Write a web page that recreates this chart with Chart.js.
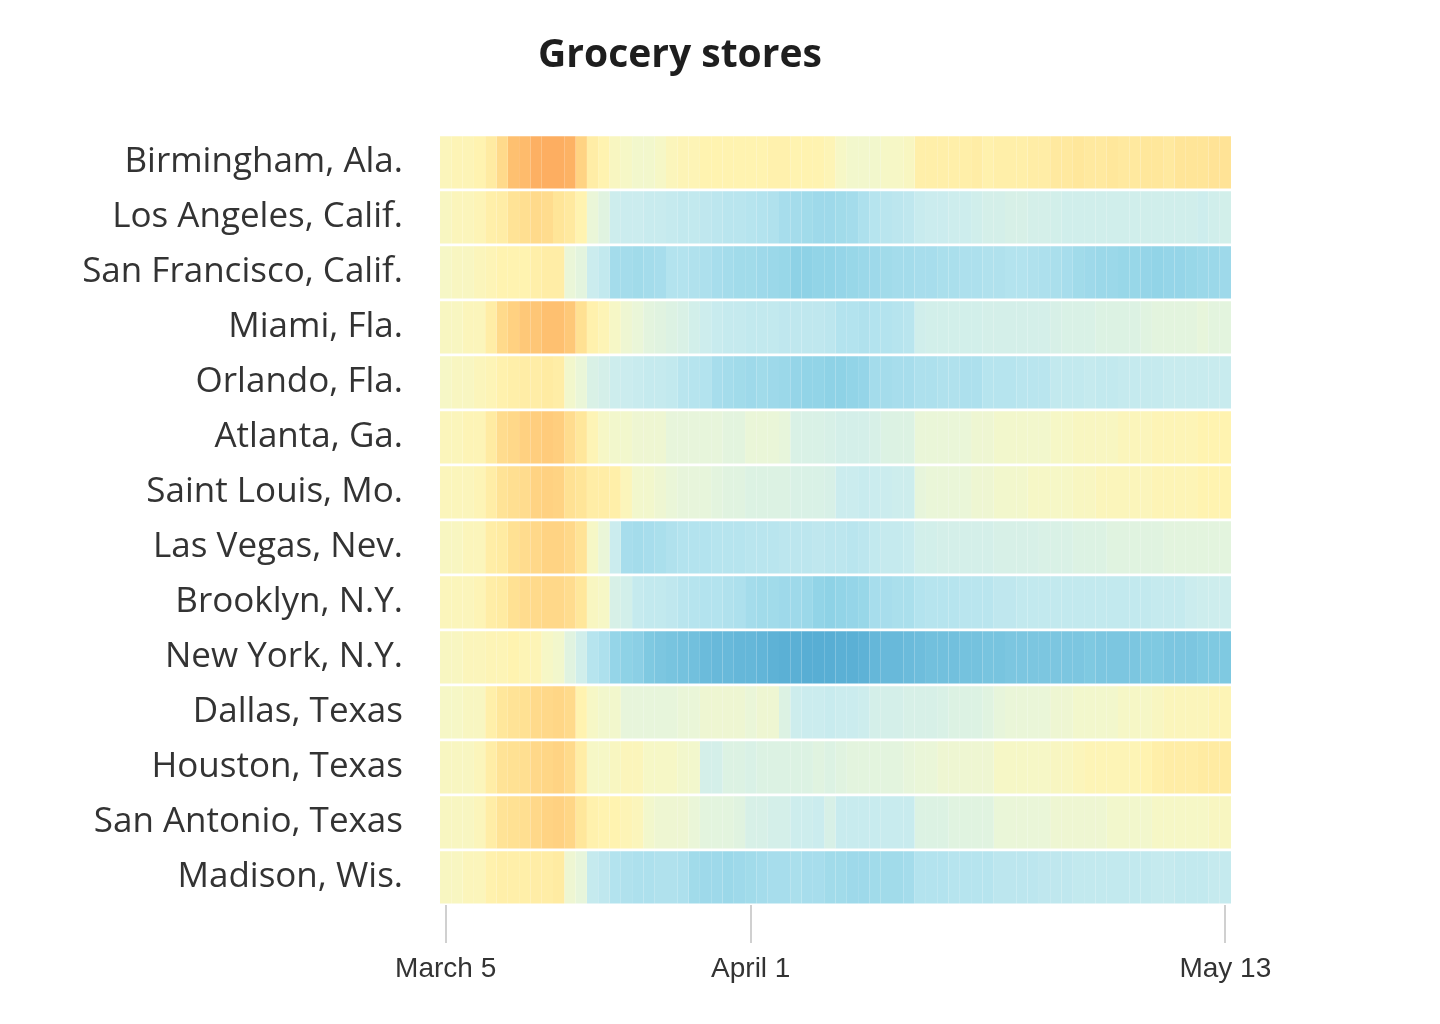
<!DOCTYPE html>
<html><head><meta charset="utf-8">
<script src="https://cdn.jsdelivr.net/npm/chart.js@4"></script>
<style>html,body{margin:0;padding:0;background:#fff}#wrap{width:1440px;height:1024px}</style>
</head><body><div id="wrap"><canvas id="c"></canvas></div>
<script>
const cities = ['Birmingham, Ala.','Los Angeles, Calif.','San Francisco, Calif.','Miami, Fla.','Orlando, Fla.','Atlanta, Ga.','Saint Louis, Mo.','Las Vegas, Nev.','Brooklyn, N.Y.','New York, N.Y.','Dallas, Texas','Houston, Texas','San Antonio, Texas','Madison, Wis.'];

const birmingham = [4,5,5,6, 10, 18, 28,31, 37,38,38,36, 21, 9,6, 3,2,1,1,2, 4,5,5,6,6,6,6, 6,6,7,7,6,6,6,5, 2,1,1,1,2,2,3, 8,8,8,8,8,9,7,8,8,8,9,9, 11,11,12,11,11,12,11,11,12,12,11, 13,13,13,14,14];
const losAngeles = [3,4,4,5, 8,9, 14,16,18,17, 13,11, 6, -1,-4, -11,-12,-12,-13,-13, -14,-15,-15,-16,-17,-18,-18,-19,-20,-21, -24,-25,-26,-27,-27,-26,-25,-22, -19,-18,-17,-16, -13,-12,-12,-11,-11,-10, -8,-8,-7,-7,-8,-8,-9, -10,-10,-10,-10,-10,-10,-10,-10,-10,-10,-10,-10,-11,-10,-9];
const sanFrancisco = [2,3,3,4, 5,6,6,6, 8,9,9, -1, -3, -12,-15, -25,-25,-26,-25,-24, -20,-20,-21,-22, -24,-25,-26,-26,-27,-28,-29, -32,-32,-31,-31,-30,-29,-28, -27,-26,-25,-25,-24,-24,-23,-23,-22,-22, -21,-21,-20,-20,-21,-22,-23,-24, -26,-27,-28,-28,-29,-29,-30, -31,-30,-30,-29,-28,-28,-27];
const miami = [3,3,4,4, 9, 18,22, 25,26,28,28,25, 15, 7,5, 2,0,-1, -3,-4,-5,-6, -9,-11,-13,-14,-14,-15,-15, -15,-16,-16,-16,-16,-17, -20,-20,-21,-20,-20,-19,-18, -10,-9,-9,-9,-9,-9,-8,-8,-8,-8,-8,-8,-7, -6,-6,-6,-5,-5,-5,-5,-4, -3,-3,-3,-3,-2,-3,-3];
const orlando = [2,3,3,4, 5, 7,8,9,9,10,9, 1, -1, -6,-8, -11,-12,-13,-14,-14,-15, -18,-19,-20, -24,-25,-26,-27,-26,-27,-28, -30,-31,-31,-32,-32,-31,-30, -25,-25,-24,-24, -22,-22,-21,-21,-22,-22, -19,-19,-19,-18,-18,-18, -15,-15,-15,-14,-15,-15,-14,-14,-14,-14,-13,-13,-13,-13,-13,-13];
const atlanta = [4,4,5,5, 10, 17,19, 22,23,24,23, 17, 12, 5, 2,1,1,0,0,0, -2,-2,-2,-2,-2,-3,-3, -1,-1,-1,-2, -6,-6,-6,-7, -8,-8,-8,-7, -5,-5,-5, -1,-1,-1,-1,-1,0,0, 1,1,1,1,1,2,2, 3,3,3,3,4,4,4, 5,5,5,5,6,6,6];
const saintLouis = [4,4,4,5, 9, 14,16,17, 21,22,21, 15, 13,9,9,8, 4,1,1,0, -1,-2,-2,-2,-3, -4,-4,-5,-5,-5,-5,-6,-6,-6,-7, -12,-12,-13,-12,-12,-11,-11, -2,-1,-1,-1,-1,0,0, 1,1,1,2,2,2,2, 3,3,4,4,4,4,4, 5,5,5,5,6,6,6];
const lasVegas = [3,3,4,4, 9,10, 15,17,19, 21,21,19, 14, 2,-1, -12, -24,-25,-24,-23, -21,-20,-20,-20,-19,-19,-19,-18,-18,-18, -17,-17,-17,-16,-17,-17,-18,-17, -15,-14,-14,-13, -9,-9,-8,-8,-8,-8,-8,-7,-7,-7,-7,-6,-6,-6, -5,-5,-5,-4,-4,-4,-4,-4,-3,-3,-3,-3,-3,-3];
const brooklyn = [4,4,4,5, 9,10, 15,17,18,19,19, 17, 12, 3,2, -7,-9, -14,-15,-15,-16, -18,-19,-20,-20,-21,-22, -25,-26,-26,-27,-27,-28, -31,-32,-31,-30,-29, -24,-24,-23,-23, -20,-19,-19,-19,-18,-18,-18, -16,-16,-15,-15,-15,-15,-15,-15,-15,-15,-15,-15,-15,-15,-14,-14,-14, -12,-11,-11,-11];
const newYork = [3,3,4,4, 5,5,6,5,5, 2,1, -4, -10, -19,-22, -30,-32,-33, -36,-37,-38,-39,-40, -42,-43,-43,-44,-44,-45, -46,-47,-47,-48,-48,-48,-47,-47,-46, -44,-43,-43,-42, -41,-40,-40,-40,-39,-39,-38, -38,-37,-37,-37,-37,-37,-37,-37,-36,-37,-37,-37,-37,-36,-36,-37,-37,-37,-36,-36,-36];
const dallas = [2,2,3,3, 8, 12,14,15, 18,19,20,18, 6, 2,1,1, -2,-2,-2,-2,-2,-1,-1, 0,0,0,0,-1,0,0, -5, -11,-12,-12,-13,-12,-12,-11, -8,-8,-8,-7,-7,-7,-6, -5,-5,-5,-4, -2,-1,-1,-1,-1,0,0, 1,1,1,1,2,2,2, 3,4,4,4,4,5,5];
const houston = [3,3,3,4, 9, 14,15,16, 19,20,21, 18, 9, 2,2,3, 4,4, 2,2,2,1,1, -8,-8, -5,-5,-6,-5,-5,-5,-5,-5,-4,-5,-4, -3,-3,-3,-3,-3,-2, -1,-1,0,0,0,0,0, 2,2,2,2,2,3,3, 4,5,5,5,5,5,6, 8,9,9,9,10,10,10];
const sanAntonio = [3,3,3,4, 9, 14,15,16, 19,21,22,20, 12, 7,6,6,5,4, 1,0,0,0,-1, -3,-3,-3,-4, -7,-7,-8,-8, -11,-11,-12, -7, -13,-13,-13,-13,-13,-13,-13, -5,-5,-5,-4,-4,-4,-4, -1,-1,-1,-1,-1,0,0, 0,0,0,1,1,1,1, 2,2,2,2,2,3,3];
const madison = [3,3,4,4, 7,8,8,8,9,9, 10, 0, -2, -14,-16, -20,-21,-22,-22,-21,-21,-22, -26,-27,-27,-28,-27,-26, -25,-24,-24,-23,-24,-24, -26,-26,-27,-27,-26,-26,-26,-25, -20,-20,-20,-19,-19,-19,-19, -17,-17,-17,-17,-16,-16,-16, -15,-15,-15,-15,-15,-15,-15,-14,-14,-15,-15,-15,-14,-14];

const seriesValues = [birmingham, losAngeles, sanFrancisco, miami, orlando, atlanta, saintLouis, lasVegas, brooklyn, newYork, dallas, houston, sanAntonio, madison];

const tickDays = [0, 27, 69];
const tickLabels = ['March 5', 'April 1', 'May 13'];

const colorStops = [
  [38,[253,174,97]],[28,[254,192,112]],[20,[255,214,134]],[12,[255,231,155]],[6,[255,243,176]],
  [2,[246,247,198]],[-1,[234,246,216]],[-6,[217,241,230]],[-12,[203,236,238]],[-19,[182,228,238]],
  [-25,[164,220,235]],[-31,[146,212,231]],[-38,[120,196,223]],[-43,[104,185,218]],[-48,[88,174,212]]
];
function colorFor(v){
  if (v >= colorStops[0][0]) return 'rgb(' + colorStops[0][1].join(',') + ')';
  for (let i = 0; i < colorStops.length - 1; i++){
    const [a, ca] = colorStops[i], [b, cb] = colorStops[i+1];
    if (v <= a && v >= b){
      const t = (a - v) / (a - b);
      return 'rgb(' + ca.map((c,k) => Math.round(c + (cb[k]-c)*t)).join(',') + ')';
    }
  }
  return 'rgb(' + colorStops[colorStops.length-1][1].join(',') + ')';
}

const dayCount = birmingham.length;
const datasets = [];
for (let d = 0; d < dayCount; d++){
  datasets.push({
    data: seriesValues.map(() => [d, d + 1]),
    backgroundColor: seriesValues.map(row => colorFor(row[d])),
    borderWidth: 0,
    barPercentage: 0.95,
    categoryPercentage: 1,
    grouped: false
  });
}

new Chart(document.getElementById('c'), {
  type: 'bar',
  data: { labels: cities, datasets },
  options: {
    indexAxis: 'y',
    responsive: true,
    maintainAspectRatio: false,
    animation: false,
    layout: { padding: { left: 129, right: 209, top: 0, bottom: 0 } },
    plugins: {
      legend: { display: false },
      tooltip: { enabled: false },
      title: {
        display: true, text: 'Grocery stores', color: '#1e1e1e',
        font: { family: 'Open Sans', size: 39, weight: 'bold', lineHeight: 1.2 },
        padding: { top: 32, bottom: 56 }
      }
    },
    scales: {
      x: {
        type: 'linear', min: 0, max: dayCount, position: 'bottom',
        afterBuildTicks: s => { s.ticks = tickDays.map(d => ({ value: d + 0.5 })); },
        afterFit: s => { s.paddingLeft = 0; s.paddingRight = 0; s.height = 119; },
        ticks: {
          autoSkip: false, maxRotation: 0, padding: 9, color: '#333',
          font: { family: 'Liberation Sans', size: 28 },
          callback: (v, i) => tickLabels[i]
        },
        grid: { drawOnChartArea: false, drawTicks: true, tickLength: 38, color: '#d0d0d0', lineWidth: 2 },
        border: { display: false }
      },
      y: {
        type: 'category',
        afterFit: s => { s.width = 311; },
        afterUpdate: s => { s._computeLabelArea = () => undefined; },
        ticks: { padding: 37, color: '#333', font: { family: 'Open Sans', size: 35 } },
        grid: { display: false, drawTicks: false },
        border: { display: false }
      }
    }
  }
});
</script></body></html>
